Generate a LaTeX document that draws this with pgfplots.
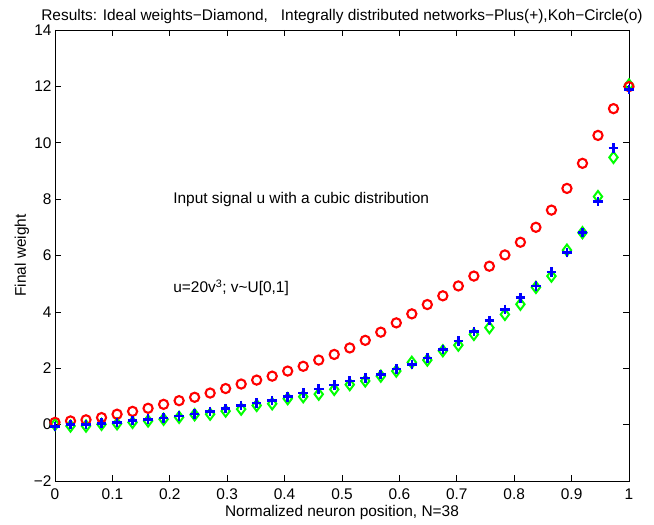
\documentclass[border=0pt]{standalone}
\usepackage{pgfplots}
\pgfplotsset{compat=1.18}
\usepackage{fontspec}
\setmainfont{Liberation Sans}

\begin{document}
\begin{tikzpicture}[x=1bp,y=1bp]
\begin{axis}[
  at={(0,0)}, anchor=south west,
  scale only axis, width=574bp, height=451bp,
  xmin=0, xmax=1, ymin=-2, ymax=14,
  xtick={0,0.1,...,1}, ytick={-2,0,...,14},
  xticklabels={0,0.1,0.2,0.3,0.4,0.5,0.6,0.7,0.8,0.9,1},
  yticklabels={−2,0,2,4,6,8,10,12,14},
  tick align=inside, major tick length=6bp,
  axis line style={line width=0.9bp}, tick style={line width=0.7bp, black},
  font=\fontsize{15.5}{18}\selectfont,
  tick label style={font=\fontsize{15.5}{18}\selectfont},
  xticklabel style={yshift=-4bp},
  xlabel={Normalized neuron position, N=38},
  ylabel={Final weight},
  xlabel style={yshift=1bp},
  ylabel style={yshift=-2bp},
  title={Results: Ideal weights−Diamond,\ \ \ Integrally distributed networks−Plus(+),Koh−Circle(o)},
  title style={yshift=-3bp},
  clip=false,
]
% ideal weights (diamond)
\addplot[only marks, mark=diamond, mark size=5.6bp, color={rgb,1:red,0;green,1;blue,0},
  mark options={line width=2bp}] coordinates {
(0,0.00) (0.027027,-0.05) (0.054054,-0.05) (0.081081,0.01) (0.108108,0.03)
(0.135135,0.08) (0.162162,0.13) (0.189189,0.19) (0.216216,0.26) (0.243243,0.35)
(0.270270,0.37) (0.297297,0.48) (0.324324,0.55) (0.351351,0.68) (0.378378,0.74)
(0.405405,0.92) (0.432432,0.99) (0.459459,1.08) (0.486486,1.25) (0.513514,1.42)
(0.540541,1.55) (0.567568,1.72) (0.594595,1.90) (0.621622,2.21) (0.648649,2.29)
(0.675676,2.62) (0.702703,2.82) (0.729730,3.20) (0.756757,3.44) (0.783784,3.91)
(0.810811,4.27) (0.837838,4.87) (0.864865,5.27) (0.891892,6.19) (0.918919,6.81)
(0.945946,8.09) (0.972973,9.48) (1,12.05)
};
% Kohonen (circle)
\addplot[only marks, mark=o, mark size=4.6bp, color={rgb,1:red,1;green,0;blue,0},
  mark options={line width=2.1bp}] coordinates {
(0,0.08) (0.027027,0.13) (0.054054,0.17) (0.081081,0.25) (0.108108,0.37)
(0.135135,0.47) (0.162162,0.58) (0.189189,0.72) (0.216216,0.85) (0.243243,0.97)
(0.270270,1.12) (0.297297,1.28) (0.324324,1.44) (0.351351,1.58) (0.378378,1.72)
(0.405405,1.90) (0.432432,2.07) (0.459459,2.29) (0.486486,2.49) (0.513514,2.72)
(0.540541,2.99) (0.567568,3.28) (0.594595,3.61) (0.621622,3.93) (0.648649,4.26)
(0.675676,4.57) (0.702703,4.92) (0.729730,5.27) (0.756757,5.62) (0.783784,6.02)
(0.810811,6.47) (0.837838,7.00) (0.864865,7.61) (0.891892,8.38) (0.918919,9.27)
(0.945946,10.26) (0.972973,11.21) (1,11.99)
};
% integrally distributed (plus)
\addplot[only marks, mark=+, mark size=4.8bp, color={rgb,1:red,0;green,0;blue,1},
  mark options={line width=2.6bp}] coordinates {
(0,-0.07) (0.027027,0.01) (0.054054,0.01) (0.081081,0.05) (0.108108,0.08)
(0.135135,0.14) (0.162162,0.19) (0.189189,0.23) (0.216216,0.30) (0.243243,0.38)
(0.270270,0.47) (0.297297,0.57) (0.324324,0.68) (0.351351,0.77) (0.378378,0.85)
(0.405405,0.99) (0.432432,1.12) (0.459459,1.26) (0.486486,1.40) (0.513514,1.55)
(0.540541,1.65) (0.567568,1.78) (0.594595,1.98) (0.621622,2.14) (0.648649,2.36)
(0.675676,2.66) (0.702703,2.96) (0.729730,3.30) (0.756757,3.69) (0.783784,4.09)
(0.810811,4.50) (0.837838,4.92) (0.864865,5.41) (0.891892,6.10) (0.918919,6.81)
(0.945946,7.91) (0.972973,9.82) (1,11.89)
};
\node[anchor=west, font=\fontsize{15.5}{18}\selectfont] at (axis cs:0.2,7.97) {Input signal u with a cubic distribution};
\node[anchor=west, font=\fontsize{15.5}{18}\selectfont] at (axis cs:0.2,4.85) {u=20v\textsuperscript{3}; v\textasciitilde U[0,1]};
\end{axis}
\path (-55bp,-44bp) rectangle (599bp,481bp);
\end{tikzpicture}
\end{document}
